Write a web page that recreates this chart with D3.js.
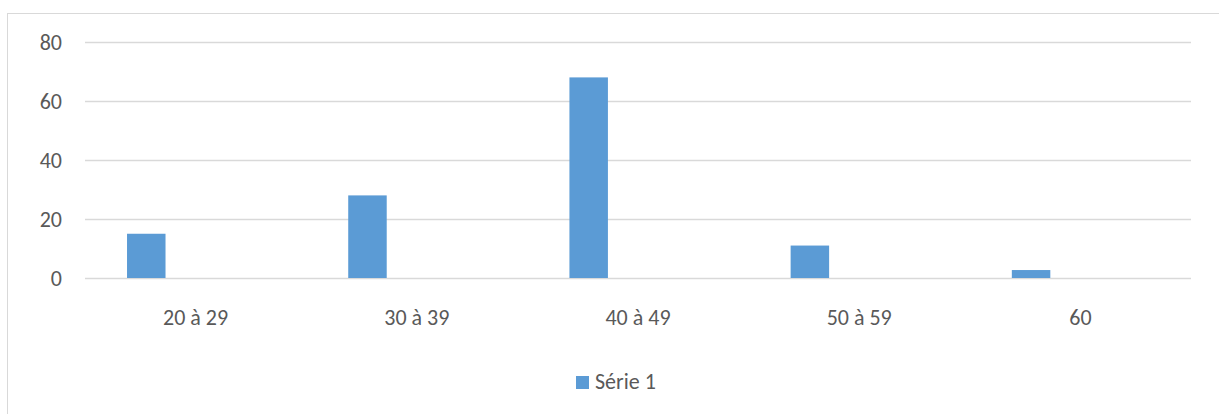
<!DOCTYPE html>
<html>
<head>
<meta charset="utf-8">
<script src="https://cdn.jsdelivr.net/npm/d3@7"></script>
<style>
  body { margin: 0; background: #fff; }
  text { font-family: Carlito, Calibri, Lato, sans-serif; fill: #595959; }
</style>
</head>
<body>
<div id="chart"></div>
<script>
// donnees
var categories = ["20 à 29", "30 à 39", "40 à 49", "50 à 59", "60"];
var valeurs = [15, 28, 68, 11, 2.7];
var yTicks = [0, 20, 40, 60, 80];
var serieNom = "Série 1";

var W = 1219, H = 414;
var margin = {top: 42, right: 28, bottom: 136, left: 85};
var width = W - margin.left - margin.right,
    height = H - margin.top - margin.bottom;

var svg = d3.select("#chart").append("svg")
    .attr("width", W)
    .attr("height", H);

// cadre du graphique
svg.append("rect")
  .attr("x", 7.5).attr("y", 13.5)
  .attr("width", W).attr("height", H)
  .attr("fill", "none")
  .attr("stroke", "#d9d9d9");

var g = svg.append("g")
  .attr("transform", "translate(" + margin.left + "," + margin.top + ")");

var x = d3.scaleBand().domain(categories).range([0, width]);
var y = d3.scaleLinear().domain([0, 80]).range([height, 0]);

// grille
g.selectAll(".grid").data(yTicks).enter().append("line")
  .attr("x1", 0).attr("x2", width)
  .attr("y1", function(d) { return Math.round(y(d)) + 0.5; })
  .attr("y2", function(d) { return Math.round(y(d)) + 0.5; })
  .attr("stroke", "#d9d9d9")
  .attr("stroke-width", 1.3);

// axe Y
var yAxis = g.append("g")
  .call(d3.axisLeft(y).tickValues(yTicks).tickSize(0).tickPadding(23));
yAxis.select(".domain").remove();
yAxis.selectAll("text")
  .style("font-size", "22px")
  .attr("fill", "#595959");

// barres
var bw = x.bandwidth();
g.selectAll(".bar").data(valeurs).enter().append("rect")
  .attr("x", function(d, i) { return x(categories[i]) + bw * 0.19; })
  .attr("width", bw * 0.174)
  .attr("y", function(d) { return y(d); })
  .attr("height", function(d) { return y(0) - y(d); })
  .attr("fill", "#5b9bd5");

// axe X
var xAxis = g.append("g")
  .attr("transform", "translate(0," + height + ")")
  .call(d3.axisBottom(x).tickSize(0).tickPadding(31));
xAxis.select(".domain").remove();
xAxis.selectAll("text")
  .style("font-size", "22px")
  .attr("fill", "#595959");

// legende
var legend = svg.append("g")
  .attr("transform", "translate(576,376)");
legend.append("rect")
  .attr("width", 13).attr("height", 13)
  .attr("fill", "#5b9bd5");
legend.append("text")
  .attr("x", 19).attr("y", 13)
  .style("font-size", "22px")
  .text(serieNom);
</script>
</body>
</html>
